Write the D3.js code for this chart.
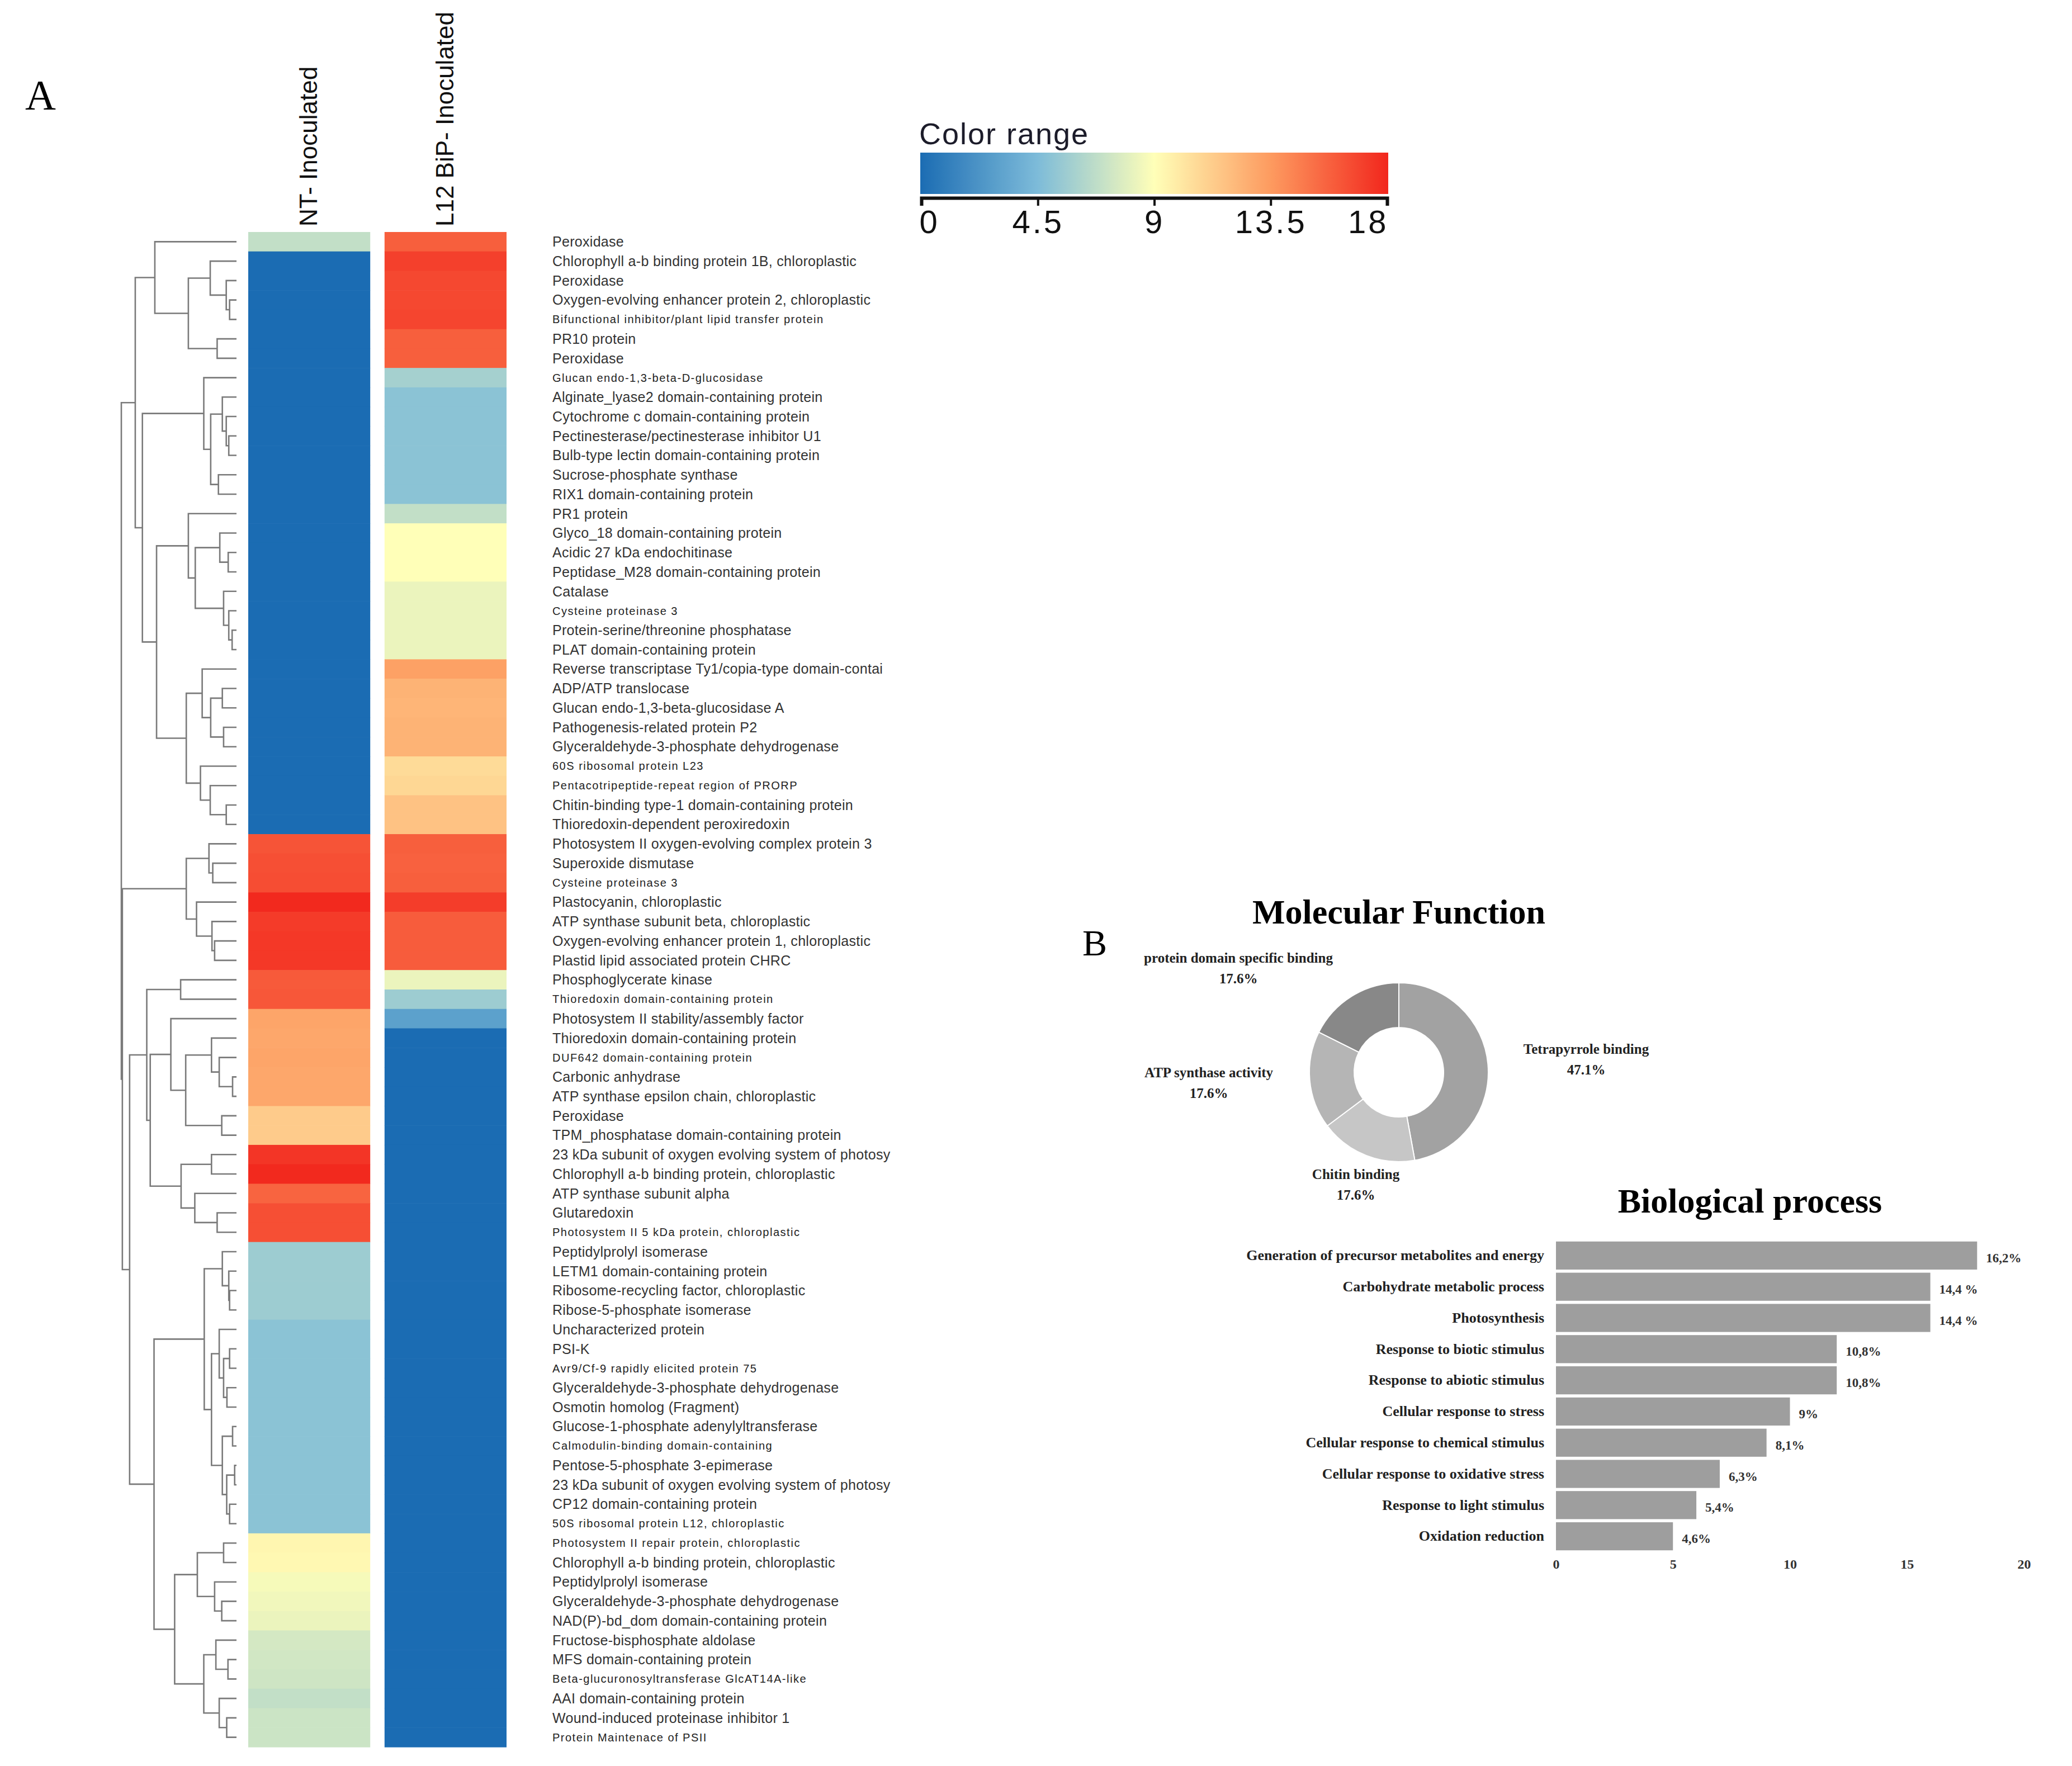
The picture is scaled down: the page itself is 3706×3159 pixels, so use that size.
<!DOCTYPE html>
<html>
<head>
<meta charset="utf-8">
<script src="https://cdn.jsdelivr.net/npm/d3@7"></script>
<style>
  html, body { margin: 0; padding: 0; background: #fff; }
  svg { display: block; }
</style>
</head>
<body>
<div id="chart"></div>
<script>
// ---------- Heatmap (A) ----------
const proteins = [
  "Peroxidase",
  "Chlorophyll a-b binding protein 1B, chloroplastic",
  "Peroxidase",
  "Oxygen-evolving enhancer protein 2, chloroplastic",
  "Bifunctional inhibitor/plant lipid transfer protein",
  "PR10 protein",
  "Peroxidase",
  "Glucan endo-1,3-beta-D-glucosidase",
  "Alginate_lyase2 domain-containing protein",
  "Cytochrome c domain-containing protein",
  "Pectinesterase/pectinesterase inhibitor U1",
  "Bulb-type lectin domain-containing protein",
  "Sucrose-phosphate synthase",
  "RIX1 domain-containing protein",
  "PR1 protein",
  "Glyco_18 domain-containing protein",
  "Acidic 27 kDa endochitinase",
  "Peptidase_M28 domain-containing protein",
  "Catalase",
  "Cysteine proteinase 3",
  "Protein-serine/threonine phosphatase",
  "PLAT domain-containing protein",
  "Reverse transcriptase Ty1/copia-type domain-contai",
  "ADP/ATP translocase",
  "Glucan endo-1,3-beta-glucosidase A",
  "Pathogenesis-related protein P2",
  "Glyceraldehyde-3-phosphate dehydrogenase",
  "60S ribosomal protein L23",
  "Pentacotripeptide-repeat region of PRORP",
  "Chitin-binding type-1 domain-containing protein",
  "Thioredoxin-dependent peroxiredoxin",
  "Photosystem II oxygen-evolving complex protein 3",
  "Superoxide dismutase",
  "Cysteine proteinase 3",
  "Plastocyanin, chloroplastic",
  "ATP synthase subunit beta, chloroplastic",
  "Oxygen-evolving enhancer protein 1, chloroplastic",
  "Plastid lipid associated protein CHRC",
  "Phosphoglycerate kinase",
  "Thioredoxin domain-containing protein",
  "Photosystem II stability/assembly factor",
  "Thioredoxin domain-containing protein",
  "DUF642 domain-containing protein",
  "Carbonic anhydrase",
  "ATP synthase epsilon chain, chloroplastic",
  "Peroxidase",
  "TPM_phosphatase domain-containing protein",
  "23 kDa subunit of oxygen evolving system of photosy",
  "Chlorophyll a-b binding protein, chloroplastic",
  "ATP synthase subunit alpha",
  "Glutaredoxin",
  "Photosystem II 5 kDa protein, chloroplastic",
  "Peptidylprolyl isomerase",
  "LETM1 domain-containing protein",
  "Ribosome-recycling factor, chloroplastic",
  "Ribose-5-phosphate isomerase",
  "Uncharacterized protein",
  "PSI-K",
  "Avr9/Cf-9 rapidly elicited protein 75",
  "Glyceraldehyde-3-phosphate dehydrogenase",
  "Osmotin homolog (Fragment)",
  "Glucose-1-phosphate adenylyltransferase",
  "Calmodulin-binding domain-containing",
  "Pentose-5-phosphate 3-epimerase",
  "23 kDa subunit of oxygen evolving system of photosy",
  "CP12 domain-containing protein",
  "50S ribosomal protein L12, chloroplastic",
  "Photosystem II repair protein, chloroplastic",
  "Chlorophyll a-b binding protein, chloroplastic",
  "Peptidylprolyl isomerase",
  "Glyceraldehyde-3-phosphate dehydrogenase",
  "NAD(P)-bd_dom domain-containing protein",
  "Fructose-bisphosphate aldolase",
  "MFS domain-containing protein",
  "Beta-glucuronosyltransferase GlcAT14A-like",
  "AAI domain-containing protein",
  "Wound-induced proteinase inhibitor 1",
  "Protein Maintenace of PSII"
];

const conditions = ["NT- Inoculated", "L12 BiP- Inoculated"];

const ntValues = [
  6.9, 0, 0, 0, 0, 0, 0, 0, 0, 0,
  0, 0, 0, 0, 0, 0, 0, 0, 0, 0,
  0, 0, 0, 0, 0, 0, 0, 0, 0, 0,
  0, 16.2, 16.4, 16.5, 17.9, 17.2, 17.3, 17.3, 16.0, 16.1,
  13.0, 12.9, 13.0, 12.9, 12.9, 11.3, 11.3, 17.4, 17.9, 15.6,
  16.4, 16.4, 5.6, 5.6, 5.6, 5.6, 5.0, 5.0, 5.0, 5.0,
  5.0, 5.0, 5.0, 5.0, 5.0, 5.0, 5.0, 9.4, 9.3, 8.7,
  8.5, 8.3, 7.5, 7.4, 7.3, 6.9, 7.2, 7.2
];

const l12Values = [
  15.8, 17.0, 16.7, 16.7, 16.8, 15.8, 15.8, 5.9, 5.0, 5.0,
  5.0, 5.0, 5.0, 5.0, 6.9, 9.0, 9.0, 9.0, 8.3, 8.3,
  8.3, 8.3, 13.2, 12.4, 12.3, 12.4, 12.4, 10.6, 10.8, 11.7,
  11.7, 15.8, 15.7, 15.8, 17.1, 15.9, 15.9, 15.9, 8.3, 5.6,
  3.0, 0, 0, 0, 0, 0, 0, 0, 0, 0,
  0, 0, 0, 0, 0, 0, 0, 0, 0, 0,
  0, 0, 0, 0, 0, 0, 0, 0, 0, 0,
  0, 0, 0, 0, 0, 0, 0, 0
];

const colorTicks = [0, 4.5, 9, 13.5, 18];
const colorStops = ["#1b6cb3", "#7dbbd9", "#ffffb8", "#fd9a5f", "#f2261d"];

// row clustering: [linkage height, left, right]; leaves are row indices
const dendrogram = [100,
  [87.9,
    [70.9, 0, [41.8, [22.8, 1, [8.9, 2, [6.0, 3, 4]]], [16.8, 5, 6]]],
    [81.7,
      [28.4, 7, [22.4, [12.3, 8, [8.9, 9, [6.7, 10, 11]]], [15.7, 12, 13]]],
      [69.4,
        [41.8, 14, [35.8, [14.5, 15, [7.2, 16, 17]], [11.2, 18, [6.7, 19, [3.8, 20, 21]]]]],
        [43.6,
          [29.8, 22, [22.4, [12.3, 23, 24], [11.2, 25, 26]]],
          [31.3, 27, [22.8, 28, [8.9, 29, 30]]]]]]],
  [99.1,
    [43.6, [23.9, 31, [20.6, 32, 33]], [34.7, 34, [21.3, 35, [19.0, 36, 37]]]],
    [92.8,
      [77.9, [48.5, 38, 39],
        [74.9,
          [57.0, 40, [44.1, [21.7, 41, [15.0, 42, [3.4, 43, 44]]], [12.8, 45, 46]]],
          [48.1, [21.7, 47, 48], [36.2, 49, [16.8, 50, 51]]]]],
      [71.6,
        [28.0, [12.3, 52, [6.7, 53, [6.0, 54, 55]]],
          [21.7, [15.0, 56, [11.2, [6.0, 57, 58], [8.3, 59, 60]]],
            [12.3, [3.4, 61, 62], [8.5, [1.6, 63, 64], [6.0, 65, 66]]]]],
        [53.7, [34.0, [11.2, 67, 68], [19.0, 69, [12.8, 70, 71]]],
          [28.4, [17.9, 72, [7.4, 73, 74]], [15.0, 75, [8.5, 76, 77]]]]]]]
];

// ---------- Molecular Function (B, donut) ----------
const mfCategories = ["Tetrapyrrole binding", "Chitin binding", "ATP synthase activity", "protein domain specific binding"];
const mfPercents = [47.1, 17.6, 17.6, 17.6];
const mfLabels = ["47.1%", "17.6%", "17.6%", "17.6%"];

// ---------- Biological process (B, bars) ----------
const bpCategories = [
  "Generation of precursor metabolites and energy",
  "Carbohydrate metabolic process",
  "Photosynthesis",
  "Response to biotic stimulus",
  "Response to abiotic stimulus",
  "Cellular response to stress",
  "Cellular response to chemical stimulus",
  "Cellular response to oxidative stress",
  "Response to light stimulus",
  "Oxidation reduction"
];
const bpCounts = [18, 16, 16, 12, 12, 10, 9, 7, 6, 5];
const bpLabels = ["16,2%", "14,4 %", "14,4 %", "10,8%", "10,8%", "9%", "8,1%", "6,3%", "5,4%", "4,6%"];
const bpTicks = [0, 5, 10, 15, 20];

// small-print row labels (as in the original figure)
const smallRows = new Set([4, 7, 19, 27, 28, 33, 39, 42, 51, 58, 62, 66, 67, 74, 77]);

const W = 3706, H = 3159;
const SANS = "'Liberation Sans', Arial, sans-serif";
const SERIF = "'Liberation Serif', 'Times New Roman', serif";

const svg = d3.select("#chart").append("svg")
  .attr("width", W).attr("height", H)
  .style("background", "#fff");

// ===== Panel A =====
const color = d3.scaleLinear().domain(colorTicks).range(colorStops).clamp(true);

const y = d3.scaleBand()
  .domain(d3.range(proteins.length))
  .range([415, 3125])
  .padding(0);

const xCol = d3.scaleBand()
  .domain(conditions)
  .range([444, 906])
  .paddingInner(0.105);

const valueRows = [ntValues, l12Values];

conditions.forEach((c, ci) => {
  svg.append("g")
    .selectAll("rect")
    .data(valueRows[ci])
    .join("rect")
    .attr("x", xCol(c))
    .attr("y", (d, i) => y(i))
    .attr("width", xCol.bandwidth())
    .attr("height", y.bandwidth() + 0.6)
    .attr("fill", d => color(d));
});

// column headers
svg.append("g")
  .selectAll("text")
  .data(conditions)
  .join("text")
  .attr("transform", d => `translate(${xCol(d) + xCol.bandwidth() / 2 + 14},405) rotate(-90)`)
  .attr("text-anchor", "start")
  .style("font-family", SANS)
  .style("font-size", "44px")
  .style("fill", "#111")
  .text(d => d);

// row labels
svg.append("g")
  .selectAll("text")
  .data(proteins)
  .join("text")
  .attr("x", 988)
  .attr("y", (d, i) => y(i) + y.bandwidth() / 2)
  .attr("dy", "0.35em")
  .style("font-family", SANS)
  .style("font-size", (d, i) => smallRows.has(i) ? "20px" : "25px")
  .style("letter-spacing", (d, i) => smallRows.has(i) ? "1.5px" : "0.3px")
  .style("fill", (d, i) => smallRows.has(i) ? "#222" : "#333")
  .text(d => d);

// dendrogram
const xDist = d3.scaleLinear().domain([0, 100]).range([423, 217]);
const tree = d3.hierarchy(dendrogram, d => Array.isArray(d) ? d.slice(1) : null);
tree.eachAfter(n => {
  if (n.children) {
    n.px = xDist(n.data[0]);
    n.py = d3.mean(n.children, c => c.py);
  } else {
    n.px = xDist(0);
    n.py = y(n.data) + y.bandwidth() / 2;
  }
});
svg.append("g")
  .selectAll("path")
  .data(tree.descendants().filter(n => n.children))
  .join("path")
  .attr("d", n => {
    const [a, b] = n.children;
    return `M${a.px},${a.py}H${n.px}V${b.py}H${b.px}`;
  })
  .attr("fill", "none")
  .attr("stroke", "#7a7a7a")
  .attr("stroke-width", 2.6);

// panel letter
svg.append("text")
  .attr("x", 45).attr("y", 196)
  .style("font-family", SERIF)
  .style("font-size", "76px")
  .text("A");

// colour legend
const legendX = d3.scaleLinear().domain([colorTicks[0], colorTicks[colorTicks.length - 1]]).range([1648, 2481]);
const grad = svg.append("defs").append("linearGradient")
  .attr("id", "cgrad").attr("x1", "0%").attr("x2", "100%");
grad.selectAll("stop")
  .data(d3.range(0, 18.01, 0.5))
  .join("stop")
  .attr("offset", d => (d / 18 * 100) + "%")
  .attr("stop-color", d => color(d));

svg.append("text")
  .attr("x", 1644).attr("y", 258)
  .style("font-family", SANS)
  .style("font-size", "54px")
  .style("letter-spacing", "2px")
  .style("fill", "#1c1c2a")
  .text("Color range");

svg.append("rect")
  .attr("x", legendX.range()[0] - 2).attr("y", 273)
  .attr("width", legendX.range()[1] - legendX.range()[0] + 4)
  .attr("height", 74)
  .attr("fill", "url(#cgrad)");

const legendAxis = svg.append("g")
  .attr("transform", "translate(0,354)")
  .call(d3.axisBottom(legendX).tickValues(colorTicks).tickSize(14).tickPadding(8).tickSizeOuter(14)
    .tickFormat(d3.format("")));
legendAxis.select(".domain").attr("stroke", "#111").attr("stroke-width", 6);
legendAxis.selectAll(".tick line").attr("stroke", "#111").attr("stroke-width", 4);
legendAxis.selectAll(".tick text")
  .style("font-family", SANS)
  .style("font-size", "58px")
  .style("letter-spacing", "4px")
  .style("fill", "#111")
  .attr("text-anchor", (d, i) => i === 0 ? "start" : (i === colorTicks.length - 1 ? "end" : "middle"))
  .attr("dx", (d, i) => i === 0 ? "-4" : (i === colorTicks.length - 1 ? "2" : "0"));

// ===== Panel B: donut =====
svg.append("text")
  .attr("x", 1936).attr("y", 1709)
  .style("font-family", SERIF)
  .style("font-size", "66px")
  .text("B");

svg.append("text")
  .attr("x", 2502).attr("y", 1652)
  .attr("text-anchor", "middle")
  .style("font-family", SERIF)
  .style("font-weight", "bold")
  .style("font-size", "62px")
  .text("Molecular Function");

const donutCx = 2502, donutCy = 1918;
const pieColors = d3.scaleOrdinal().domain(mfCategories).range(["#a2a2a2", "#c6c6c6", "#b5b5b5", "#888888"]);
const pie = d3.pie().sort(null).value(d => d.v);
const arc = d3.arc().innerRadius(80).outerRadius(160);
const mfData = mfCategories.map((c, i) => ({ c, v: mfPercents[i], label: mfLabels[i] }));

const donut = svg.append("g").attr("transform", `translate(${donutCx},${donutCy})`);
donut.selectAll("path")
  .data(pie(mfData))
  .join("path")
  .attr("d", arc)
  .attr("fill", d => pieColors(d.data.c))
  .attr("stroke", "#fff")
  .attr("stroke-width", 2);

// label placement relative to donut centre (layout only)
const mfLabelOffset = {
  "Tetrapyrrole binding": [335, -42],
  "Chitin binding": [-77, 182],
  "ATP synthase activity": [-340, 0],
  "protein domain specific binding": [-287, -205]
};
const mfText = donut.selectAll("text.mf")
  .data(mfData)
  .join("text")
  .attr("class", "mf")
  .attr("text-anchor", "middle")
  .style("font-family", SERIF)
  .style("font-weight", "bold")
  .style("font-size", "25px")
  .style("fill", "#222");
mfText.append("tspan")
  .attr("x", d => mfLabelOffset[d.c][0])
  .attr("y", d => mfLabelOffset[d.c][1] + 9)
  .text(d => d.c);
mfText.append("tspan")
  .attr("x", d => mfLabelOffset[d.c][0])
  .attr("y", d => mfLabelOffset[d.c][1] + 46)
  .text(d => d.label);

// ===== Panel B: bar chart =====
svg.append("text")
  .attr("x", 3130).attr("y", 2169)
  .attr("text-anchor", "middle")
  .style("font-family", SERIF)
  .style("font-weight", "bold")
  .style("font-size", "62px")
  .text("Biological process");

const bx = d3.scaleLinear().domain([0, 20]).range([2783, 3620]);
const by = d3.scaleBand().domain(bpCategories).range([2218, 2776]).paddingInner(0.1).paddingOuter(0.05);

svg.append("g")
  .selectAll("rect")
  .data(bpCounts)
  .join("rect")
  .attr("x", bx(0))
  .attr("y", (d, i) => by(bpCategories[i]))
  .attr("width", d => bx(d) - bx(0))
  .attr("height", by.bandwidth())
  .attr("fill", "#9e9e9e");

svg.append("g")
  .selectAll("text")
  .data(bpLabels)
  .join("text")
  .attr("x", (d, i) => bx(bpCounts[i]) + 16)
  .attr("y", (d, i) => by(bpCategories[i]) + by.bandwidth() / 2 + 4)
  .attr("dy", "0.35em")
  .style("font-family", SERIF)
  .style("font-weight", "bold")
  .style("font-size", "23px")
  .style("fill", "#333")
  .text(d => d);

const yAxisG = svg.append("g")
  .attr("transform", `translate(${bx(0)},0)`)
  .call(d3.axisLeft(by).tickSize(0).tickPadding(21));
yAxisG.select(".domain").remove();
yAxisG.selectAll("text")
  .style("font-family", SERIF)
  .style("font-weight", "bold")
  .style("font-size", "26px")
  .style("fill", "#222");

const xAxisG = svg.append("g")
  .attr("transform", "translate(0,2781)")
  .call(d3.axisBottom(bx).tickValues(bpTicks).tickSize(0).tickPadding(8));
xAxisG.select(".domain").remove();
xAxisG.selectAll("text")
  .style("font-family", SERIF)
  .style("font-weight", "bold")
  .style("font-size", "24px")
  .style("fill", "#333");
</script>
</body>
</html>
